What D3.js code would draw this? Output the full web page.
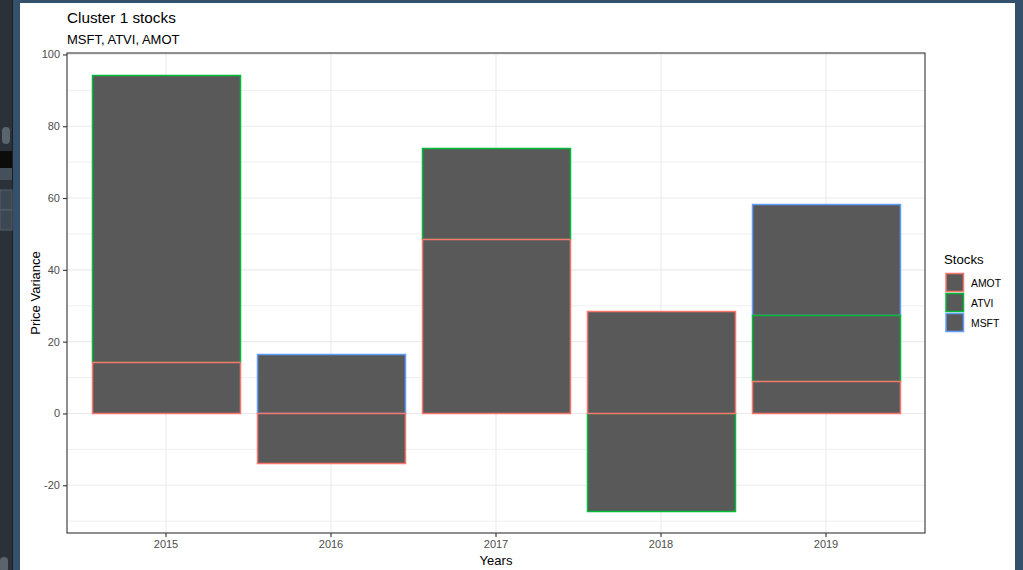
<!DOCTYPE html>
<html>
<head>
<meta charset="utf-8">
<script src="https://cdn.jsdelivr.net/npm/d3@7"></script>
<style>
  html, body { margin: 0; padding: 0; background: #34506b; }
  svg { display: block; font-family: "Liberation Sans", Arial, sans-serif; }
</style>
</head>
<body>
<svg id="chart" width="1023" height="570"></svg>
<script>
// ---- data ----
const years = ["2015", "2016", "2017", "2018", "2019"];
const stockKeys = ["AMOT", "ATVI", "MSFT"];
const amotValues = [14.2, -13.8, 48.5, 28.5, 9.0];
const atviValues = [80.1, 0, 25.5, -27.2, 18.5];
const msftValues = [0, 16.5, 0, 0, 30.9];
const yTicks = [-20, 0, 20, 40, 60, 80, 100];
const yMinorTicks = [-30, -10, 10, 30, 50, 70, 90];
const stockColors = ["#F8766D", "#00BA38", "#619CFF"];
const titleText = "Cluster 1 stocks";
const subtitleText = "MSFT, ATVI, AMOT";
const xTitle = "Years";
const yTitle = "Price Variance";
const legendTitle = "Stocks";

// ---- layout ----
const svg = d3.select("#chart");
const W = 1023, H = 570;
const panel = { left: 67, right: 925, top: 53, bottom: 533 };

// Window chrome (screenshot frame)
svg.append("rect").attr("x", 0).attr("y", 0).attr("width", W).attr("height", H).attr("fill", "#34506b");
svg.append("rect").attr("x", 0).attr("y", 0).attr("width", 12).attr("height", H).attr("fill", "#2a3139");
svg.append("rect").attr("x", 12).attr("y", 0).attr("width", 1).attr("height", H).attr("fill", "#1a1f24");
svg.append("rect").attr("x", 20).attr("y", 3).attr("width", 995).attr("height", H - 3).attr("fill", "#ffffff");
const chrome = svg.append("g");
chrome.append("rect").attr("x", 2).attr("y", 127).attr("width", 8).attr("height", 17).attr("rx", 4).attr("fill", "#5b646d");
chrome.append("rect").attr("x", 0).attr("y", 151).attr("width", 12).attr("height", 17).attr("fill", "#0c0c0c");
chrome.append("rect").attr("x", 0).attr("y", 168).attr("width", 12).attr("height", 12).attr("fill", "#46505a");
chrome.append("rect").attr("x", 0).attr("y", 190).attr("width", 12).attr("height", 20).attr("fill", "#3d4751").attr("stroke", "#55606a");
chrome.append("rect").attr("x", 0).attr("y", 210).attr("width", 12).attr("height", 20).attr("fill", "#3d4751").attr("stroke", "#55606a");
chrome.append("rect").attr("x", 0).attr("y", 557).attr("width", 8).attr("height", 16).attr("rx", 4).attr("fill", "#5b646d");

// ---- scales ----
const x = d3.scaleBand()
  .domain(years)
  .range([panel.left, panel.right])
  .paddingInner(0.1)
  .paddingOuter(0.15);

const y = d3.scaleLinear()
  .domain([-33.3, 100.4])
  .range([panel.bottom, panel.top]);

const snap = v => Math.round(v) + 0.5;

// ---- panel background & grid ----
svg.append("rect")
  .attr("x", panel.left).attr("y", panel.top)
  .attr("width", panel.right - panel.left).attr("height", panel.bottom - panel.top)
  .attr("fill", "#ffffff");

const grid = svg.append("g");
grid.selectAll("line.minor").data(yMinorTicks).join("line")
  .attr("x1", panel.left).attr("x2", panel.right)
  .attr("y1", d => y(d)).attr("y2", d => y(d))
  .attr("stroke", "#ebebeb").attr("stroke-width", 0.8);
grid.selectAll("line.majory").data(yTicks).join("line")
  .attr("x1", panel.left).attr("x2", panel.right)
  .attr("y1", d => y(d)).attr("y2", d => y(d))
  .attr("stroke", "#ebebeb").attr("stroke-width", 1.1);
grid.selectAll("line.majorx").data(years).join("line")
  .attr("x1", d => x(d) + x.bandwidth() / 2).attr("x2", d => x(d) + x.bandwidth() / 2)
  .attr("y1", panel.top).attr("y2", panel.bottom)
  .attr("stroke", "#ebebeb").attr("stroke-width", 1.1);

// ---- stacked bars ----
const rows = years.map((yr, i) => ({ year: yr, AMOT: amotValues[i], ATVI: atviValues[i], MSFT: msftValues[i] }));
const stack = d3.stack().keys(stockKeys).offset(d3.stackOffsetDiverging);
const series = stack(rows);
const color = d3.scaleOrdinal().domain(stockKeys).range(stockColors);

// draw order: MSFT, ATVI, AMOT (AMOT outlines on top)
const drawOrder = series.slice().reverse();
const bars = svg.append("g");
drawOrder.forEach(s => {
  bars.append("g")
    .selectAll("rect")
    .data(s.filter(d => d[1] !== d[0]))
    .join("rect")
    .attr("x", d => snap(x(d.data.year)))
    .attr("width", d => snap(x(d.data.year) + x.bandwidth()) - snap(x(d.data.year)))
    .attr("y", d => snap(y(Math.max(d[0], d[1]))))
    .attr("height", d => snap(y(Math.min(d[0], d[1]))) - snap(y(Math.max(d[0], d[1]))))
    .attr("fill", "#595959")
    .attr("stroke", color(s.key))
    .attr("stroke-width", 1.5);
});

// ---- panel border ----
svg.append("rect")
  .attr("x", panel.left).attr("y", panel.top)
  .attr("width", panel.right - panel.left).attr("height", panel.bottom - panel.top)
  .attr("fill", "none").attr("stroke", "#333333").attr("stroke-width", 1.1);

// ---- axes ----
const xAxis = svg.append("g")
  .attr("transform", `translate(0,${panel.bottom})`)
  .call(d3.axisBottom(x).tickSize(4).tickPadding(3));
const yAxis = svg.append("g")
  .attr("transform", `translate(${panel.left},0)`)
  .call(d3.axisLeft(y).tickValues(yTicks).tickFormat(d => String(d)).tickSize(4).tickPadding(3));
[xAxis, yAxis].forEach(a => {
  a.select(".domain").remove();
  a.selectAll(".tick line").attr("stroke", "#333333").attr("stroke-width", 1.1);
  a.selectAll(".tick text").attr("fill", "#4d4d4d").attr("font-size", "11px")
    .attr("font-family", "'Liberation Sans', Arial, sans-serif");
});

// ---- titles ----
svg.append("text").attr("x", 67).attr("y", 23).attr("font-size", "15.3px").attr("fill", "#000").text(titleText);
svg.append("text").attr("x", 67).attr("y", 44).attr("font-size", "13px").attr("fill", "#000").text(subtitleText);
svg.append("text").attr("x", (panel.left + panel.right) / 2).attr("y", 565)
  .attr("text-anchor", "middle").attr("font-size", "13px").attr("fill", "#000").text(xTitle);
svg.append("text")
  .attr("transform", `translate(39.5,${(panel.top + panel.bottom) / 2}) rotate(-90)`)
  .attr("text-anchor", "middle").attr("font-size", "13px").attr("fill", "#000").text(yTitle);

// ---- legend ----
const legend = svg.append("g");
legend.append("text").attr("x", 944).attr("y", 264).attr("font-size", "13.2px").attr("fill", "#000").text(legendTitle);
const items = legend.selectAll("g.item").data(stockKeys).join("g")
  .attr("transform", (d, i) => `translate(946,${273.5 + i * 20})`);
items.append("rect")
  .attr("width", 17.5).attr("height", 18)
  .attr("fill", "#595959")
  .attr("stroke", d => color(d)).attr("stroke-width", 1.5);
items.append("text")
  .attr("x", 25).attr("y", 13.8)
  .attr("font-size", "10.4px").attr("fill", "#000")
  .text(d => d);
</script>
</body>
</html>
